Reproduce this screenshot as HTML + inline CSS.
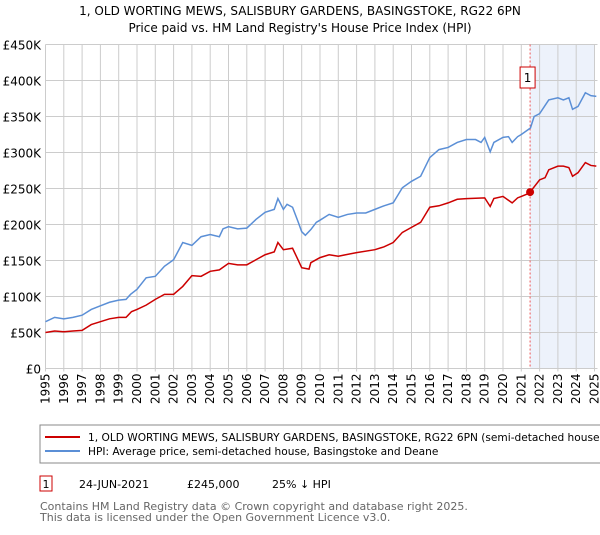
<!DOCTYPE html>
<html><head><meta charset="utf-8"><style>
body{margin:0;background:#fff;font-family:"Liberation Sans","DejaVu Sans",sans-serif;}
svg text{font-family:"DejaVu Sans","Liberation Sans",sans-serif;}
</style></head><body>
<svg id="c" width="600" height="530" viewBox="0 0 600 530" xmlns="http://www.w3.org/2000/svg">
<text x="300" y="15" text-anchor="middle" font-size="12" fill="#000">1, OLD WORTING MEWS, SALISBURY GARDENS, BASINGSTOKE, RG22 6PN</text>
<text x="300" y="32" text-anchor="middle" font-size="12" fill="#000">Price paid vs. HM Land Registry's House Price Index (HPI)</text>
<g id="plot"></g>
<rect x="40" y="425" width="565" height="38" fill="#fff" stroke="#888"/>
<line x1="45" y1="437" x2="80" y2="437" stroke="#cc0000" stroke-width="2"/>
<text x="88" y="441" font-size="10.6">1, OLD WORTING MEWS, SALISBURY GARDENS, BASINGSTOKE, RG22 6PN (semi-detached house)</text>
<line x1="45" y1="451" x2="80" y2="451" stroke="#5b8fd6" stroke-width="2"/>
<text x="88" y="455" font-size="10.6">HPI: Average price, semi-detached house, Basingstoke and Deane</text>
<rect x="40" y="476" width="12" height="15" fill="#fff" stroke="#cc0000"/>
<text x="46" y="488" text-anchor="middle" font-size="11">1</text>
<text x="79" y="488" font-size="11">24-JUN-2021</text>
<text x="187" y="488" font-size="11">£245,000</text>
<text x="272" y="488" font-size="11">25% ↓ HPI</text>
<text x="40" y="510" font-size="11" fill="#666">Contains HM Land Registry data © Crown copyright and database right 2025.</text>
<text x="40" y="521" font-size="11" fill="#666">This data is licensed under the Open Government Licence v3.0.</text>
</svg>
<script>
const hpiYears=[1995,1995.5,1996,1996.5,1997,1997.5,1998,1998.5,1999,1999.4,1999.65,2000,2000.5,2001,2001.5,2002,2002.5,2003,2003.5,2004,2004.5,2004.7,2005,2005.5,2006,2006.5,2007,2007.5,2007.7,2008,2008.2,2008.5,2008.8,2009,2009.2,2009.5,2009.8,2010,2010.5,2011,2011.5,2012,2012.5,2013,2013.5,2014,2014.5,2015,2015.5,2016,2016.5,2017,2017.5,2018,2018.5,2018.8,2019,2019.3,2019.5,2020,2020.3,2020.5,2020.8,2021,2021.5,2021.7,2022,2022.5,2023,2023.3,2023.6,2023.8,2024.1,2024.5,2024.8,2025.1];
const hpiValues=[65,71,69,71,74,82,87,92,95,96,103,110,126,128,142,151,175,171,183,186,183,194,197,194,195,207,217,221,236,221,228,224,204,190,185,193,203,206,214,210,214,216,216,221,226,230,251,260,267,293,304,307,314,318,318,314,321,301,314,321,322,314,322,325,334,350,354,373,376,373,376,360,364,383,379,378];
const ppYears=[1995,1995.5,1996,1996.5,1997,1997.5,1998,1998.5,1999,1999.4,1999.7,2000,2000.5,2001,2001.5,2002,2002.5,2003,2003.5,2004,2004.5,2005,2005.5,2006,2006.5,2007,2007.5,2007.7,2008,2008.5,2008.8,2009,2009.4,2009.5,2010,2010.5,2011,2012,2013,2013.5,2014,2014.5,2015,2015.5,2016,2016.5,2017,2017.5,2018,2019,2019.3,2019.5,2020,2020.5,2020.8,2021,2021.3,2021.48,2022,2022.3,2022.5,2023,2023.3,2023.6,2023.8,2024.1,2024.5,2024.8,2025.1];
const ppValues=[50,52,51,52,53,61,65,69,71,71,79,82,88,96,103,103,114,129,128,135,137,146,144,144,151,158,162,175,165,167,151,140,138,147,154,158,156,161,165,169,175,189,196,203,224,226,230,235,236,237,225,236,239,230,237,239,242,245,262,265,276,281,281,279,267,272,286,282,281];
const saleYear=2021.48, saleValue=245;
const yTicks=[0,50,100,150,200,250,300,350,400,450];
const xTicks=[];for(let y=1995;y<=2025;y++)xTicks.push(y);
const X0=45.5,PXY=18.3,Y0=368.5,PXK=36/50;
const xs=y=>X0+(y-1995)*PXY, ys=v=>Y0-v*PXK;
const NS="http://www.w3.org/2000/svg", g=document.getElementById('plot');
function mk(t,a){const e=document.createElementNS(NS,t);for(const k in a)e.setAttribute(k,a[k]);g.appendChild(e);return e;}
let r=mk('rect',{x:xs(saleYear),y:ys(450),width:xs(2025)-xs(saleYear),height:ys(0)-ys(450),fill:'#edf2fb'});


yTicks.forEach(v=>{
 const l=mk('line',{x1:xs(1995),x2:xs(2025)+3,y1:ys(v),y2:ys(v),stroke:'#ccc'});
 
 
 const t=mk('text',{x:41,y:ys(v)+5,'text-anchor':'end','font-size':12});
 t.textContent=v===0?'£0':'£'+v+'K';
 
 
});
xTicks.forEach(y=>{
 const l=mk('line',{x1:xs(y),x2:xs(y),y1:ys(450),y2:ys(0)+3,stroke:'#ccc'});
 
 
 const t=mk('text',{x:0,y:0,'text-anchor':'end','font-size':12,transform:`translate(${xs(y)+4},${ys(0)+5}) rotate(-90)`});
 t.textContent=y;
 
 
});
let d=mk('line',{x1:xs(saleYear),x2:xs(saleYear),y1:ys(450),y2:ys(0),stroke:'#e55',"stroke-dasharray":'2,2'});


let hp=mk('polyline',{points:hpiYears.map((y,i)=>xs(y)+','+ys(hpiValues[i])).join(' '),fill:'none',stroke:'#5b8fd6','stroke-width':1.5});


let pp=mk('polyline',{points:ppYears.map((y,i)=>xs(y)+','+ys(ppValues[i])).join(' '),fill:'none',stroke:'#cc0000','stroke-width':1.5});


let dot=mk('circle',{cx:xs(saleYear),cy:ys(saleValue),r:4,fill:'#cc0000'});


let b=mk('rect',{x:xs(saleYear)-10,y:67,width:15,height:21,fill:'#fff',stroke:'#cc0000'});


let bt=mk('text',{x:xs(saleYear)-2.5,y:82,'text-anchor':'middle','font-size':12});
bt.textContent='1';


</script>
</body></html>
